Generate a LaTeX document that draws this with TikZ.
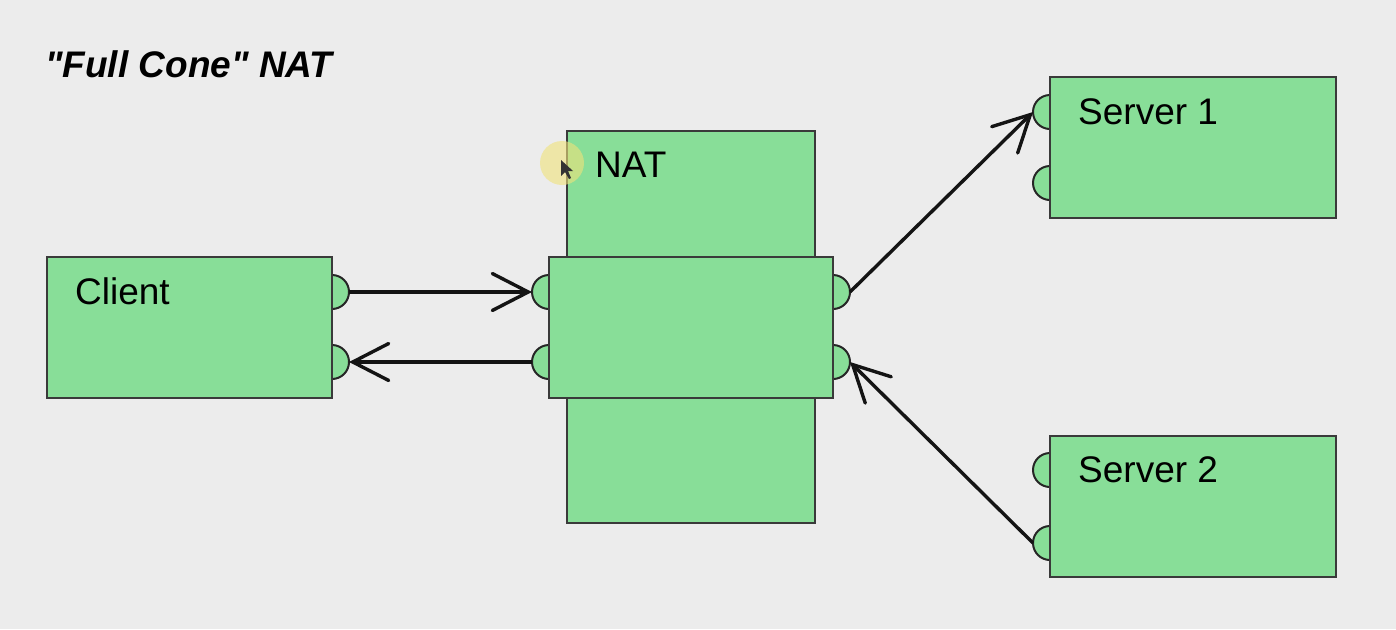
\documentclass[tikz,border=0pt]{standalone}
\usepackage{fontspec}
\setmainfont{Liberation Sans}[Ligatures=TeXOff]
\usetikzlibrary{arrows.meta}
\definecolor{bg}{HTML}{ECECEC}
\definecolor{boxgreen}{HTML}{88DE98}
\definecolor{edge}{HTML}{3A3A3A}
\definecolor{hilite}{HTML}{F0E27A}
\begin{document}
\begin{tikzpicture}[x=1pt,y=-1pt,
  box/.style={draw=edge,fill=boxgreen,line width=1.5pt,anchor=north west,inner sep=0pt,outer sep=0pt},
  port/.style={draw=black!85,fill=boxgreen,line width=2pt},
  arr/.style={line width=3.4pt,black!92,-{Straight Barb[length=36pt,width=37pt,line width=3.4pt,line cap=round]}},
  lbl/.style={font=\fontsize{37}{42}\selectfont,anchor=base west,inner sep=0pt}]
\useasboundingbox (0,0) rectangle (1396,629);
\fill[bg] (0,0) rectangle (1396,629);
% port coordinates
\coordinate (cp1) at (332,292);
\coordinate (cp2) at (332,362);
\coordinate (nl1) at (549,292);
\coordinate (nl2) at (549,362);
\coordinate (nr1) at (833,292);
\coordinate (nr2) at (833,362);
\coordinate (sa1) at (1050,112);
\coordinate (sa2) at (1050,183);
\coordinate (sb1) at (1050,470);
\coordinate (sb2) at (1050,543);
% port circles (inner half hidden by boxes)
\foreach \p in {cp1,cp2,nl1,nl2,nr1,nr2,sa1,sa2,sb1,sb2}
  \draw[port] (\p) circle[radius=17pt];
% boxes
\node[box,minimum width=285pt,minimum height=141pt] (client) at (47,257) {};
\node[box,minimum width=248pt,minimum height=392pt] (nat) at (567,131) {};
\node[box,minimum width=284pt,minimum height=141pt] (natmid) at (549,257) {};
\node[box,minimum width=286pt,minimum height=141pt] (srv1) at (1050,77) {};
\node[box,minimum width=286pt,minimum height=141pt] (srv2) at (1050,436) {};
% labels
\node[lbl] (title) at (45,77) {\bfseries\itshape "Full Cone" NAT};
\node[lbl] (clientlbl) at (75,304) {Client};
\node[lbl] (natlbl) at (595,177) {NAT};
\node[lbl] (srv1lbl) at (1078,124) {Server 1};
\node[lbl] (srv2lbl) at (1078,482) {Server 2};
% port apex coordinates
\coordinate (cq1) at (349,292);
\coordinate (cq2) at (349,362);
\coordinate (nm1) at (532,292);
\coordinate (nm2) at (532,362);
\coordinate (ns1) at (850,292);
\coordinate (ns2) at (850,362);
\coordinate (sx1) at (1033,112);
\coordinate (sy2) at (1033,543);
% arrows
\draw[arr] (cq1) -- (nm1);
\draw[arr] (nm2) -- (cq2);
\draw[arr] (ns1) -- (sx1);
\draw[arr] (sy2) -- (ns2);
% cursor highlight
\fill[hilite,opacity=0.6] (562,163) circle[radius=22pt];
\coordinate (cur) at (561,160);
\fill[black!80] (cur) -- ++(0,16) -- ++(4,-4) -- ++(4,7) -- ++(2,-1) -- ++(-3,-7) -- ++(5,0) -- cycle;
\end{tikzpicture}
\end{document}
